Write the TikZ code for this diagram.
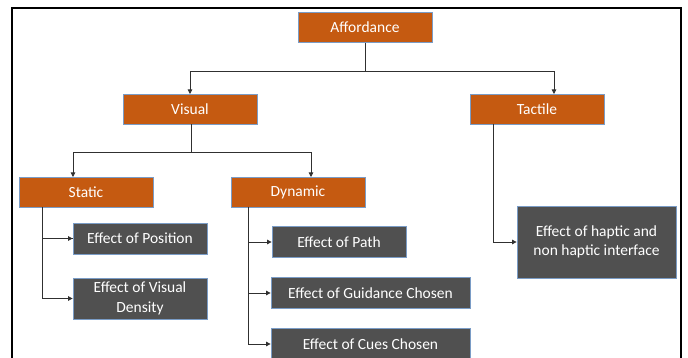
\documentclass[tikz,border=0pt]{standalone}
\usepackage{fontspec}
\setmainfont{Carlito}
\usetikzlibrary{arrows.meta,calc}
\definecolor{orbox}{HTML}{C55A11}
\definecolor{gybox}{HTML}{505050}
\definecolor{edgeblue}{HTML}{7A9CC6}
\definecolor{conn}{HTML}{303030}
\begin{document}
\begin{tikzpicture}[x=1pt,y=-1pt,
  base/.style={draw=edgeblue,line width=0.8pt,text=white,align=center,inner sep=0pt,
    font=\fontsize{15.5}{19.5}\selectfont},
  orange/.style={base,fill=orbox,minimum width=134pt,minimum height=30pt},
  gray/.style={base,fill=gybox,minimum height=31pt},
  link/.style={draw=conn,line width=0.8pt},
  arr/.style={link,-{Triangle[length=4.5pt,width=4.5pt]}}
]
\useasboundingbox (0,0) rectangle (688,358);
\draw[line width=2pt] (12,8) rectangle (681,380);

\node[orange] (aff) at (365,27.5) {Affordance};
\node[orange] (vis) at (190,109) {Visual};
\node[orange] (tac) at (537,109) {Tactile};
\node[orange] (sta) at (86,192) {Static};
\node[orange] (dyn) at (298,192) {Dynamic};

\node[gray,minimum width=134pt] (pos) at (140,238.5) {Effect of Position};
\node[gray,minimum width=134pt,minimum height=41pt] (den) at (140,298.5) {Effect of Visual\\Density};
\node[gray,minimum width=134pt] (pat) at (339,242) {Effect of Path};
\node[gray,minimum width=199pt] (gui) at (370.5,293) {Effect of Guidance Chosen};
\node[gray,minimum width=199pt] (cue) at (370.5,344) {Effect of Cues Chosen};
\node[gray,minimum width=159pt,minimum height=72pt] (hap) at (596.5,242) {Effect of haptic and\\non haptic interface};

% Affordance -> Visual / Tactile
\coordinate (j1) at (aff.south |- 0,71);
\coordinate (vt) at (190,94);
\coordinate (tt) at (554,94);
\draw[link] (aff.south) -- (j1);
\draw[arr] (j1) -| (vt);
\draw[arr] (j1) -| (tt);

% Visual -> Static / Dynamic
\coordinate (j2) at (191,152);
\coordinate (st) at (73,177);
\coordinate (dt) at (311,177);
\draw[link] (191,124) -- (j2);
\draw[arr] (j2) -| (st);
\draw[arr] (j2) -| (dt);

% Static -> children
\coordinate (sb) at (42,207);
\draw[link] (sb) |- (pos.west);
\draw[arr] (sb) |- (pos.west);
\draw[arr] (sb) |- (den.west);

% Dynamic -> children
\coordinate (db) at (248,207);
\draw[arr] (db) |- (pat.west);
\draw[arr] (db) |- (gui.west);
\draw[arr] (db) |- (cue.west);

% Tactile -> haptic
\coordinate (tb) at (493,124);
\draw[arr] (tb) |- (hap.west);
\end{tikzpicture}
\end{document}
